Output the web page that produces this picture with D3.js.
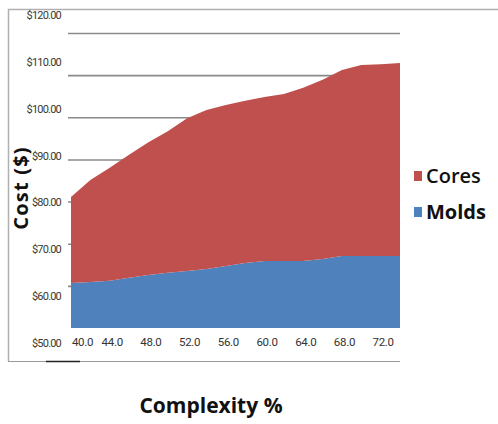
<!DOCTYPE html>
<html>
<head>
<meta charset="utf-8">
<script src="https://cdn.jsdelivr.net/npm/d3@7"></script>
<style>
  html, body { margin: 0; padding: 0; background: #fff; }
  svg { display: block; }
</style>
</head>
<body>
<svg id="chart" width="498" height="424"></svg>
<script>
// Complexity (%) along the x axis
const complexity = [40, 42, 44, 46, 48, 50, 52, 54, 56, 58, 60, 62, 64, 66, 68, 70, 72, 74];
// Cost components ($), stacked
const molds = [60.7, 60.9, 61.2, 61.9, 62.6, 63.1, 63.5, 64.0, 64.7, 65.4, 65.9, 65.9, 65.9, 66.4, 67.1, 67.1, 67.1, 67.1];
const cores = [20.4, 24.2, 26.8, 29.2, 31.5, 33.6, 36.3, 37.7, 38.2, 38.5, 38.9, 39.6, 41.1, 42.5, 44.1, 45.3, 45.5, 45.8];
const seriesNames = ["Molds", "Cores"];
const xTicks = [40, 44, 48, 52, 56, 60, 64, 68, 72];
const yTicks = [50, 60, 70, 80, 90, 100, 110, 120];

const colors = { Molds: "#4f81bd", Cores: "#c0504d" };

const svg = d3.select("#chart");

const x = d3.scaleLinear().domain([40, 74]).range([71, 400]);
const y = d3.scaleLinear().domain([50, 120]).range([328, 33]);
// value labels sit on their own, slightly wider spaced scale
const yLabel = d3.scaleLinear().domain([50, 120]).range([343, 15]);

const rows = complexity.map((c, i) => ({ c, Molds: molds[i], Cores: cores[i] }));
const stack = d3.stack().keys(seriesNames);
const layers = stack(rows);

// outer frame
svg.append("path")
  .attr("d", "M8.5,361 L8.5,9.5 L498,9.5")
  .attr("fill", "none").attr("stroke", "#b0b0b0").attr("stroke-width", 1.5);
svg.append("line")
  .attr("x1", 8).attr("x2", 400).attr("y1", 361.5).attr("y2", 361.5)
  .attr("stroke", "#9a9a9a").attr("stroke-width", 1.2);
svg.append("line")
  .attr("x1", 46).attr("x2", 80).attr("y1", 361.5).attr("y2", 361.5)
  .attr("stroke", "#222").attr("stroke-width", 1.4);

// horizontal gridlines
svg.append("g")
  .attr("transform", "translate(68,0)")
  .call(d3.axisLeft(y).tickValues(yTicks.filter(v => v > 50)).tickSize(-(400 - 68)).tickFormat(""))
  .call(g => g.select(".domain").remove())
  .call(g => g.selectAll("line").attr("stroke", "#8a8a8a").attr("stroke-width", 1.6));

// stacked areas, clipped to the plot floor
svg.append("clipPath").attr("id", "plot-clip")
  .append("rect").attr("x", 71).attr("y", 0).attr("width", 329).attr("height", 328);

const area = d3.area()
  .x(d => x(d.data.c))
  .y0(d => y(d[0]))
  .y1(d => y(d[1]));

svg.append("g").attr("clip-path", "url(#plot-clip)")
  .selectAll("path")
  .data(layers)
  .join("path")
  .attr("d", area)
  .attr("fill", d => colors[d.key]);

// y value labels
svg.append("g")
  .attr("transform", "translate(61,0)")
  .call(d3.axisLeft(yLabel).tickValues(yTicks).tickSize(0).tickPadding(0)
    .tickFormat(d => "$" + d3.format(".2f")(d)))
  .call(g => g.select(".domain").remove())
  .call(g => g.selectAll("text")
    .attr("fill", "#3a3a2c")
    .style("font-family", "'Liberation Sans Narrow', 'Roboto', sans-serif")
    .style("font-size", "11px")
    .style("letter-spacing", "-0.8px"));

// x category labels
svg.append("g")
  .attr("transform", "translate(2,338)")
  .call(d3.axisBottom(x).tickValues(xTicks).tickSize(0).tickPadding(0)
    .tickFormat(d3.format(".1f")))
  .call(g => g.select(".domain").remove())
  .call(g => g.selectAll("text")
    .attr("fill", "#333")
    .style("font-family", "'Roboto', sans-serif")
    .style("font-size", "11.5px")
    .style("letter-spacing", "-0.3px"))
  .call(g => g.selectAll(".tick").filter(d => d === 40).select("text").attr("dx", 9));

// axis titles
svg.append("text")
  .attr("transform", "translate(28,188) rotate(-90)")
  .attr("text-anchor", "middle")
  .style("font-family", "'Open Sans', sans-serif")
  .style("font-weight", "bold")
  .style("font-size", "20px")
  .style("letter-spacing", "1.2px")
  .attr("fill", "#111")
  .text("Cost ($)");

svg.append("text")
  .attr("x", 211).attr("y", 413)
  .attr("text-anchor", "middle")
  .style("font-family", "'Open Sans', sans-serif")
  .style("font-weight", "bold")
  .style("font-size", "21px")
  .attr("fill", "#111")
  .text("Complexity %");

// legend
const legendItems = [
  { key: "Cores", y: 176, weight: "600" },
  { key: "Molds", y: 212, weight: "bold" }
];
const legend = svg.append("g");
legend.selectAll("rect")
  .data(legendItems)
  .join("rect")
  .attr("x", 414).attr("y", d => d.y - 5)
  .attr("width", 8).attr("height", 10)
  .attr("fill", d => colors[d.key]);
legend.selectAll("text")
  .data(legendItems)
  .join("text")
  .attr("x", 426).attr("y", d => d.y + 7)
  .style("font-family", "'Open Sans', sans-serif")
  .style("font-weight", d => d.weight)
  .style("font-size", "20px")
  .attr("fill", "#111")
  .text(d => d.key);
</script>
</body>
</html>
